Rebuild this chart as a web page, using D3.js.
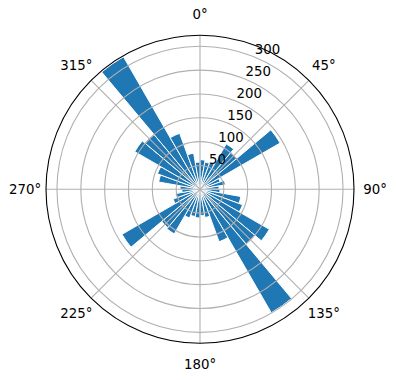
<!DOCTYPE html>
<html>
<head>
<meta charset="utf-8">
<script src="https://cdn.jsdelivr.net/npm/d3@7"></script>
<style>
  body { margin: 0; background: #fff; }
  svg { display: block; font-family: "DejaVu Sans", sans-serif; }
</style>
</head>
<body>
<svg id="chart" width="396" height="380"></svg>
<script>
// bin centres in degrees (clockwise from north) and the counts per bin
const directions = [5, 15, 25, 35, 45, 55, 65, 75, 85, 95, 105, 115,
                    125, 135, 145, 155, 165, 175, 185, 195, 205, 215, 225, 235,
                    245, 255, 265, 275, 285, 295, 305, 315, 325, 335, 345, 355];
const counts = [62, 58, 60, 110, 100, 194, 45, 54, 40, 42, 87, 95,
                168, 150, 299, 117, 60, 55, 60, 58, 64, 108, 105, 189,
                60, 52, 38, 42, 88, 95, 158, 150, 321, 125, 77, 57];
const binWidth = 10;
const radialTicks = [50, 100, 150, 200, 250, 300];
const angleTicks = [0, 45, 90, 135, 180, 225, 270, 315];
const rMax = 323;

const cx = 200, cy = 189.3, R = 154;
const svg = d3.select("#chart");
const g = svg.append("g").attr("transform", `translate(${cx},${cy})`);

const r = d3.scaleLinear().domain([0, rMax]).range([0, R]);
const rad = d => d * Math.PI / 180;

// bars
const arc = d3.arc()
    .innerRadius(0)
    .outerRadius(d => r(d.v))
    .startAngle(d => rad(d.dir - binWidth / 2))
    .endAngle(d => rad(d.dir + binWidth / 2));

g.append("g").selectAll("path")
    .data(directions.map((dir, i) => ({dir: dir, v: counts[i]})))
    .join("path")
    .attr("d", arc)
    .attr("fill", "#1f77b4")
    .attr("stroke", "#ffffff")
    .attr("stroke-width", 1);

// grid
const grid = g.append("g").attr("fill", "none").attr("stroke", "#b0b0b0").attr("stroke-width", 1.1);
grid.selectAll("circle")
    .data(radialTicks)
    .join("circle")
    .attr("r", d => r(d));
grid.selectAll("line")
    .data(angleTicks)
    .join("line")
    .attr("x1", 0).attr("y1", 0)
    .attr("x2", d => R * Math.sin(rad(d)))
    .attr("y2", d => -R * Math.cos(rad(d)));

// outer spine
g.append("circle")
    .attr("r", R)
    .attr("fill", "none")
    .attr("stroke", "#000")
    .attr("stroke-width", 1.1);

// angle labels
g.append("g").selectAll("text")
    .data(angleTicks)
    .join("text")
    .attr("x", d => (R + 21) * Math.sin(rad(d)))
    .attr("y", d => -(R + 21) * Math.cos(rad(d)))
    .attr("text-anchor", "middle")
    .attr("dominant-baseline", "central")
    .attr("font-size", "13.33px")
    .attr("fill", "#000")
    .text(d => d + "°");

// radial labels at 22.5 degrees
const labelAngle = rad(22.5);
g.append("g").selectAll("text")
    .data(radialTicks)
    .join("text")
    .attr("x", d => r(d) * Math.sin(labelAngle))
    .attr("y", d => -r(d) * Math.cos(labelAngle) - 3)
    .attr("text-anchor", "start")
    .attr("font-size", "13.33px")
    .attr("fill", "#000")
    .text(d => d);
</script>
</body>
</html>
